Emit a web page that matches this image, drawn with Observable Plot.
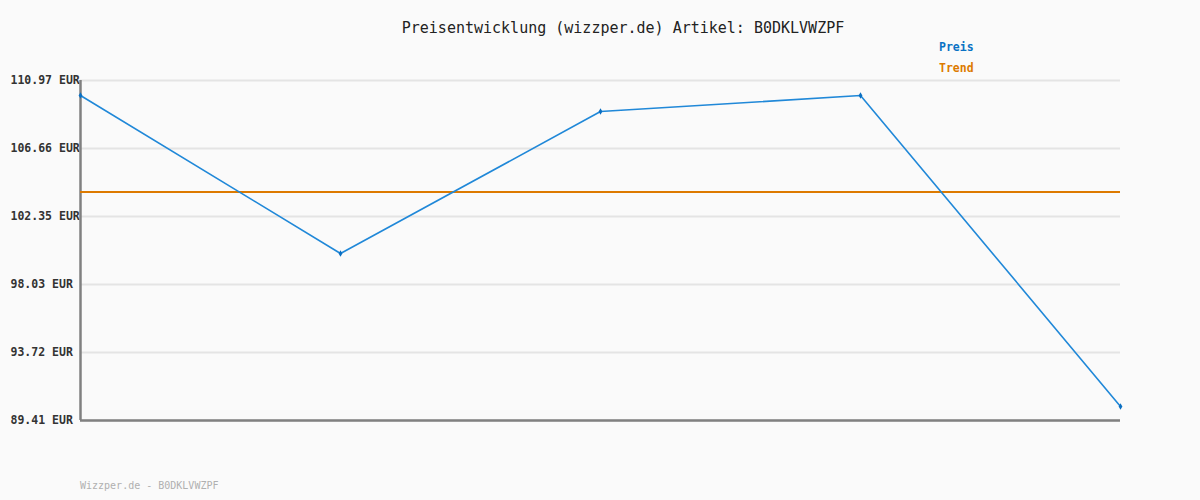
<!DOCTYPE html>
<html><head><meta charset="utf-8">
<script src="https://cdn.jsdelivr.net/npm/d3@7"></script>
<script src="https://cdn.jsdelivr.net/npm/@observablehq/plot@0.6"></script>
<style>
html,body{margin:0;padding:0;background:#fafafa;}
#wrap{position:relative;width:1200px;height:500px;background:#fafafa;font-family:"DejaVu Sans Mono",monospace;}
#title{position:absolute;top:19px;left:0;width:1246px;text-align:center;font-size:15px;color:#222;}
.leg{position:absolute;left:939px;font-size:11.5px;font-weight:bold;}
#footer{position:absolute;left:80px;top:480px;font-size:10px;color:#b0b0b0;}
</style></head>
<body><div id="wrap">
<div id="chart"></div>
<div id="title">Preisentwicklung (wizzper.de) Artikel: B0DKLVWZPF</div>
<div class="leg" style="top:40px;color:#0a72c4">Preis</div>
<div class="leg" style="top:61px;color:#dd7a00">Trend</div>
<div id="footer">Wizzper.de - B0DKLVWZPF</div>
</div>
<script>
const idx = [0, 1, 2, 3, 4];
const prices = [110.02, 100.0, 109.0, 110.02, 90.3];
const trendValue = 103.9;
const yTicks = [89.41, 93.72, 98.03, 102.35, 106.66, 110.97];

const data = idx.map((i, k) => ({i, p: prices[k]}));

const chart = Plot.plot({
  width: 1200, height: 500,
  marginLeft: 80, marginRight: 80, marginTop: 80, marginBottom: 80,
  style: {background: "#fafafa", fontFamily: "DejaVu Sans Mono, monospace"},
  x: {domain: [0, 4], axis: null},
  y: {domain: [89.41, 110.97], axis: null},
  marks: [
    Plot.ruleY(yTicks, {stroke: "#e4e4e4", strokeWidth: 2}),
    Plot.axisY({ticks: yTicks, tickSize: 0, tickPadding: 0, textAnchor: "start", dx: -70,
      tickFormat: d => d.toFixed(2) + " EUR", fontSize: 11.5, fontWeight: "bold", fill: "#333", label: null}),
    Plot.ruleX([0], {stroke: "#808080", strokeWidth: 2.5}),
    Plot.ruleY([89.41], {stroke: "#808080", strokeWidth: 2.5}),
    Plot.ruleY([trendValue], {stroke: "#dd7a00", strokeWidth: 2}),
    Plot.line(data, {x: "i", y: "p", stroke: "#2088d8", strokeWidth: 1.6}),
    Plot.dot(data, {x: "i", y: "p", r: 2, fill: "#0a6fc2", symbol: "diamond"})
  ]
});
document.getElementById("chart").appendChild(chart);
</script>
</body></html>
